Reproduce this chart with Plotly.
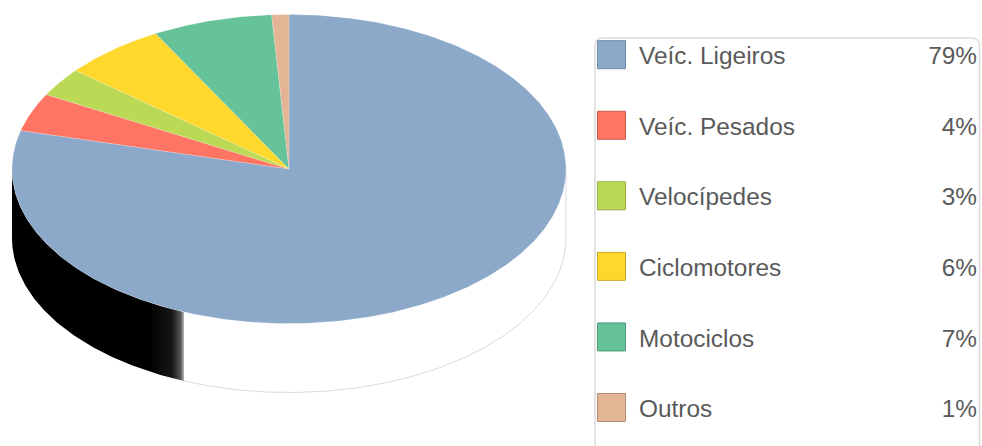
# 3D looking pie of vehicle types, drawn on squashed axes
import numpy as np
import plotly.graph_objects as go

categories = ["Veíc. Ligeiros", "Veíc. Pesados", "Velocípedes", "Ciclomotores", "Motociclos", "Outros"]
shares = [79, 4, 3, 6, 7, 1]
colors = ["#8CA9C9", "#FF7463", "#BBD955", "#FFD82E", "#66C299", "#E3B594"]
swatch_borders = ["#6E89A8", "#C85A4C", "#96AE44", "#C8A824", "#50997A", "#B08F74"]

WIDTH, HEIGHT = 982, 446
CX, CY, RX, RY = 289, 169, 277, 154.5
DEPTH = 69 / RY
SHADE_END = 202.3  # where the shaded wall stops, degrees clockwise from 12 o'clock
TEXT_COLOR = "#5a5a5a"
FONT = "Liberation Sans"


def arc(start, stop, n=200):
    # clockwise from 12 o'clock, on the unit circle
    a = np.radians(np.linspace(start, stop, n))
    return np.sin(a), np.cos(a)


fig = go.Figure()

# side wall: shaded part on the left
top_x, top_y = arc(270, SHADE_END, 120)
fig.add_trace(go.Scatter(
    x=np.r_[top_x, top_x[::-1]], y=np.r_[top_y, top_y[::-1] - DEPTH],
    mode="lines", line=dict(width=0), fill="toself",
    fillgradient=dict(type="horizontal", colorscale=[
        [0, "#000000"], [0.8, "#000000"], [0.93, "#151515"], [0.98, "#555555"], [1, "#aaaaaa"],
    ]),
    hoverinfo="skip", showlegend=False,
))

# thin outline of the unshaded wall
out_x, out_y = arc(SHADE_END, 90)
fig.add_trace(go.Scatter(
    x=np.r_[out_x, 1], y=np.r_[out_y - DEPTH, 0],
    mode="lines", line=dict(width=1, color="rgba(140,150,165,0.36)"),
    hoverinfo="skip", showlegend=False,
))

# top face, slices run clockwise from 12 o'clock
edges = np.cumsum([0] + shares) / sum(shares) * 360
for i, name in enumerate(categories):
    xs, ys = arc(edges[i], edges[i + 1], max(int(shares[i] * 6), 8))
    fig.add_trace(go.Scatter(
        x=np.r_[0, xs, 0], y=np.r_[0, ys, 0],
        mode="lines", fill="toself", fillcolor=colors[i],
        line=dict(width=0.5, color="rgba(255,255,255,0.35)"),
        name=name, hoverinfo="name", showlegend=False,
    ))

# legend, laid out on a second pair of pixel axes
rows = [54.7 + i * 70.56 for i in range(len(categories))]
fig.add_trace(go.Scatter(
    x=[611.5] * len(rows), y=rows, xaxis="x2", yaxis="y2", mode="markers",
    marker=dict(symbol="square", size=28, color=colors, line=dict(width=1, color=swatch_borders)),
    hoverinfo="skip", showlegend=False,
))
fig.add_trace(go.Scatter(
    x=[639] * len(rows), y=[r + 3.5 for r in rows], xaxis="x2", yaxis="y2", mode="text",
    text=categories, textposition="middle right",
    textfont=dict(family=FONT, size=24.4, color=TEXT_COLOR),
    hoverinfo="skip", showlegend=False,
))
fig.add_trace(go.Scatter(
    x=[977] * len(rows), y=[r + 3.5 for r in rows], xaxis="x2", yaxis="y2", mode="text",
    text=[f"{s}%" for s in shares], textposition="middle left",
    textfont=dict(family=FONT, size=24.4, color=TEXT_COLOR),
    hoverinfo="skip", showlegend=False,
))

hidden = dict(visible=False, fixedrange=True)
fig.update_layout(
    width=WIDTH, height=HEIGHT,
    margin=dict(l=0, r=0, t=0, b=0),
    paper_bgcolor="white", plot_bgcolor="rgba(0,0,0,0)",
    xaxis=dict(range=[-CX / RX, (WIDTH - CX) / RX], domain=[0, 1], **hidden),
    yaxis=dict(range=[(CY - HEIGHT) / RY, CY / RY], domain=[0, 1], **hidden),
    xaxis2=dict(range=[0, WIDTH], domain=[0, 1], overlaying="x", anchor="y2", **hidden),
    yaxis2=dict(range=[HEIGHT, 0], domain=[0, 1], overlaying="y", anchor="x2", **hidden),
    shapes=[dict(
        type="path", xref="x2", yref="y2", layer="below",
        path="M 595 470 L 595 46 Q 595 38 603 38 L 971 38 Q 979.5 38 979.5 46 L 979.5 470",
        line=dict(color="#dcdcdc", width=1.6),
    )],
)

fig.write_html("out.html", config=dict(displayModeBar=False),
               post_script="document.body.style.margin='0';document.body.style.overflow='hidden';")
